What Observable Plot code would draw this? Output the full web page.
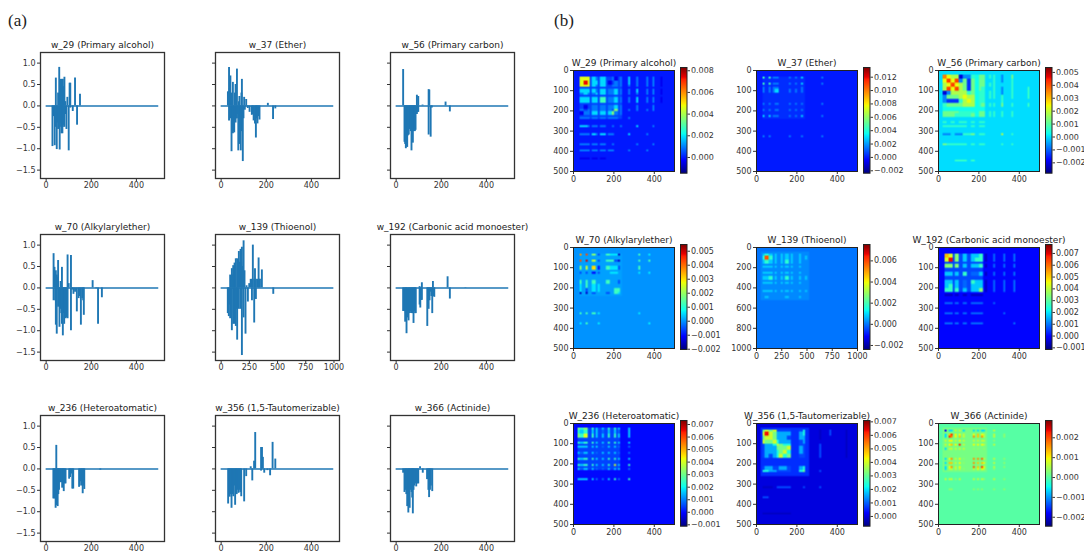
<!DOCTYPE html>
<html><head><meta charset="utf-8">
<script src="https://cdn.jsdelivr.net/npm/d3@7"></script>
<script src="https://cdn.jsdelivr.net/npm/@observablehq/plot@0.6"></script>
<style>
html,body{margin:0;padding:0;background:#fff;width:1084px;height:552px;overflow:hidden}
#root{position:relative;width:1084px;height:552px;overflow:hidden}
.p{position:absolute}
.lab{position:absolute;font-family:"Liberation Serif",serif;font-size:17px;color:#222}
</style></head><body><div id="root"><div class="lab" style="left:8px;top:11px">(a)</div><div class="lab" style="left:554px;top:11px">(b)</div></div>
<script>
// ---- stem values: [position, value]
const w_29=[[28,-.95],[33,-.25],[38,-.93],[43,.65],[43,-.5],[47,-1.02],[50,-.4],[53,.3],[53,-.55],[58,.9],[60,-1.03],[62,.3],[62,-.4],[64,.62],[66,-.5],[68,.4],[68,-.65],[70,.62],[72,-.65],[74,.62],[74,-.5],[77,.45],[77,-.45],[81,.67],[81,-.5],[85,.1],[85,-.2],[90,-.55],[94,.2],[100,-1.05],[104,.53],[107,.53],[107,-.05],[118,-.13],[128,.65],[137,-.45],[150,.27]];
const w_37=[[30,.33],[35,.9],[35,-.35],[38,.4],[41,.7],[41,-.3],[44,.3],[46,-1.07],[49,-.5],[52,.55],[52,-.65],[55,-.6],[58,-.63],[61,.3],[64,.5],[64,-.4],[67,-.3],[70,.86],[70,-.3],[73,-.2],[76,-1.05],[79,.1],[81,.22],[81,-.9],[84,-.5],[87,-1.05],[90,.3],[92,.62],[92,-.6],[96,-1.3],[99,-.3],[102,.2],[105,-.1],[111,.15],[111,-.02],[118,-.06],[126,-.15],[136,-.22],[140,-.2],[144,-.35],[150,-.42],[154,-.75],[158,-.3],[161,-.42],[166,-.25],[170,-.33],[207,.06],[230,-.32],[240,-.07]];
const w_56=[[31,.85],[37,-.85],[40,-.9],[43,-1.0],[46,-.95],[49,-.97],[52,-.7],[56,-.68],[59,-.55],[62,-.5],[65,-.6],[68,-1.05],[71,-.85],[74,-.87],[77,-.6],[80,-.55],[83,-.6],[86,-.57],[92,.25],[92,-.2],[95,-.15],[98,.22],[98,-.15],[117,.02],[144,.38],[144,-.68],[147,.37],[153,-.73],[158,-.05],[219,.09],[238,-.14]];
const w_70=[[33,.8],[33,-.3],[37,.48],[40,-.3],[43,-.87],[43,.4],[47,-1.08],[47,.3],[50,.25],[53,.64],[53,-.45],[56,-.4],[59,-.92],[62,-.5],[64,.15],[67,-.6],[70,.48],[70,-.85],[74,-1.12],[77,-.6],[80,-.85],[83,-.7],[86,-.72],[90,-.7],[95,.77],[95,-.72],[100,.1],[110,.76],[110,-1.0],[115,-.05],[121,-.15],[128,-.1],[136,-.56],[144,-.25],[148,-.2],[154,-.87],[160,-.25],[164,-.3],[167,-.64],[206,.17],[222,-.02],[230,-.85],[247,-.23]];
const w_139=[[59,-.6],[68,-.67],[74,-.4],[80,.3],[80,-.72],[88,.2],[95,-1.0],[95,.45],[101,.3],[107,.52],[107,-.85],[113,-.6],[119,.58],[119,-.85],[125,.5],[130,.68],[130,-.9],[136,-.5],[142,-1.22],[142,.68],[150,-.4],[157,.85],[157,-.5],[165,.6],[172,.9],[172,-.5],[178,.6],[184,-1.58],[184,.95],[192,.5],[199,1.1],[199,-.7],[207,.4],[216,-1.08],[225,.05],[237,-.33],[249,.1],[262,.2],[273,.2],[273,-.3],[281,1.0],[293,-.82],[293,.2],[300,.45],[308,-.27],[308,.2],[320,.2],[332,.7],[332,.2],[344,.2],[361,.42],[462,-.15]];
const w_192=[[31,-.55],[35,-.55],[40,-.8],[43,-.6],[46,-1.07],[50,-.7],[55,-.77],[58,-.6],[62,-.55],[66,-.6],[70,-.6],[74,-.6],[77,-.83],[81,-.55],[84,-.6],[87,-.6],[104,.03],[104,-.4],[107,-.47],[111,-.29],[114,.12],[114,-.29],[138,-.9],[141,-.3],[144,-.5],[148,-.3],[151,-.1],[156,-.2],[160,-.6],[163,.15],[166,-.2],[169,-.22],[228,.26],[238,-.26],[307,.01]];
const w_236=[[32,-.7],[35,-.7],[38,-.7],[42,-.92],[45,.55],[45,-.85],[48,-.85],[51,-.88],[54,-.6],[57,-.5],[60,-.32],[63,-.32],[67,-.32],[71,-.45],[75,-.3],[78,-.53],[82,-.35],[86,-.35],[102,-.24],[106,-.2],[111,-.12],[116,-.47],[120,-.47],[146,-.43],[150,-.3],[155,-.4],[158,-.3],[162,-.58],[166,-.4],[169,-.48],[240,-.03]];
const w_356=[[31,-.82],[35,-.6],[38,-.66],[42,-.6],[46,-.92],[50,-.6],[54,-.65],[58,-.4],[62,-.85],[66,-.5],[69,-.6],[73,-.5],[77,-.57],[81,-.5],[85,-.55],[89,-.65],[102,-.77],[111,-.18],[131,.05],[138,-.28],[146,.18],[151,.85],[177,.5],[177,-.05],[181,.5],[185,.27],[191,-.1],[205,-.04],[217,-.16],[228,.62],[240,.23]];
const w_366=[[31,-.1],[37,-.55],[41,-.5],[45,-.6],[49,-.88],[54,-1.03],[57,-.9],[60,-.92],[64,-.5],[68,-.55],[71,-.68],[74,-1.05],[77,-.5],[80,-.4],[85,-.35],[89,-.42],[94,-.35],[98,-.35],[106,.05],[118,-.1],[137,-.25],[143,-.5],[146,-.67],[150,-.5],[154,-.4],[160,-.53]];

// ---- heat maps of panel (b), read as bands of rows/columns with levels between each pair of bands.
// levels: digits = multiples of (colour-bar max)/9, a-d = multiples of (colour-bar min)/4, 0 = nothing on top of the floor.
const W_29_bands=[[30,50],[50,70],[70,85],[95,110],[115,125],[130,165],[175,187],[190,205],[205,225],[230,240],[270,280],[310,325],[365,375],[395,405],[435,445]];
const W_29_levels=["5","58","555","2222","12112","222223","0a01111","1011111","a11222241","111111111","2211110101","11121211002","111111010001","1111111100101","aaaaaa000000000"];
const W_29_floor=[30,240,.0004];
const W_37_bands=[[30,40],[58,68],[78,88],[95,110],[165,175],[195,205],[222,232],[322,332]];
const W_37_levels=["3","33","111","1112","11011","110111","2211112","11001011"];
const W_37_floor=[30,240,.0003];
const W_56_bands=[[25,40],[45,60],[65,80],[85,100],[105,120],[125,145],[145,160],[165,180],[200,215],[215,230],[250,260],[270,280],[310,325],[365,375],[440,450]];
const W_56_levels=["6","47","347","3747","ca333","a22234","abbb134","12222333","222211112","2221111222","10101101110","111111011100","aa0aa11211003","21111101110011","000111010000000"];
const W_56_floor=[25,235,.0003];
const W_70_bands=[[30,45],[58,72],[90,108],[122,135],[165,180],[185,200],[205,220],[225,235],[325,335],[368,378]];
const W_70_levels=["6","78","345","aaba","22202","1211003","1a110022","cca0a0214","2221000012","1201000001"];
const W_70_floor=[30,240,.0001];
const W_139_bands=[[60,85],[90,130],[130,155],[190,210],[240,260],[290,320],[340,360],[430,450],[480,500]];
const W_139_levels=["1","27","121","1111","11111","112112","1111111","11111111","010001010"];
const W_139_floor=[50,520,.0002];
const W_192_bands=[[33,48],[55,72],[82,98],[125,140],[165,178],[185,200],[205,220],[235,245],[275,285],[325,335],[370,380]];
const W_192_levels=["6","58","444","2223","22213","232122","3332224","bbbbbbb0","111111101","1111111001","11111110001"];
const W_192_floor=[30,225,.0006];
const W_236_bands=[[25,35],[35,55],[55,68],[90,102],[112,122],[140,150],[172,185],[197,212],[225,235],[275,285]];
const W_236_levels=["4","32","435","3233","22222","212212","3233223","32332235","212211222","2222112313"];
const W_236_floor=[25,235,.0005];
const W_356_bands=[[30,40],[40,58],[58,80],[80,98],[98,112],[112,135],[135,150],[150,170],[215,228],[228,240],[310,325],[365,375],[440,450]];
const W_356_levels=["4","58","455","5445","12235","122244","1222345","12123534","122112212","3322111134","aaa01111011","110000000000","aaaaaaaa00000"];
const W_356_floor=[25,260,.0006];
const W_366_bands=[[28,42],[48,60],[62,75],[85,95],[100,112],[125,135],[170,182],[190,202],[208,220],[225,235],[275,285],[325,335]];
const W_366_levels=["c","a4","a75","2332","23437","a22222","a352315","a4423154","a35230647","a222212332","22212022212","011000111011"];
const W_366_floor=[25,240,.0002];

const stemPanels=[
 ["w_29 (Primary alcohol)",w_29,500],["w_37 (Ether)",w_37,500],["w_56 (Primary carbon)",w_56,500],
 ["w_70 (Alkylarylether)",w_70,500],["w_139 (Thioenol)",w_139,1000],["w_192 (Carbonic acid monoester)",w_192,500],
 ["w_236 (Heteroatomatic)",w_236,500],["w_356 (1,5-Tautomerizable)",w_356,500],["w_366 (Actinide)",w_366,500]];
const heatPanels=[
 ["W_29 (Primary alcohol)",W_29_bands,W_29_levels,W_29_floor,500,-.00145,.0083,[0,.002,.004,.006,.008]],
 ["W_37 (Ether)",W_37_bands,W_37_levels,W_37_floor,500,-.00236,.01345,[-.002,0,.002,.004,.006,.008,.01,.012]],
 ["W_56 (Primary carbon)",W_56_bands,W_56_levels,W_56_floor,500,-.0028,.00538,[-.002,-.001,0,.001,.002,.003,.004,.005]],
 ["W_70 (Alkylarylether)",W_70_bands,W_70_levels,W_70_floor,500,-.00202,.00548,[-.002,-.001,0,.001,.002,.003,.004,.005]],
 ["W_139 (Thioenol)",W_139_bands,W_139_levels,W_139_floor,1000,-.00238,.00755,[-.002,0,.002,.004,.006]],
 ["W_192 (Carbonic acid monoester)",W_192_bands,W_192_levels,W_192_floor,500,-.00114,.00776,[-.001,0,.001,.002,.003,.004,.005,.006,.007]],
 ["W_236 (Heteroatomatic)",W_236_bands,W_236_levels,W_236_floor,500,-.00111,.00732,[-.001,0,.001,.002,.003,.004,.005,.006,.007]],
 ["W_356 (1,5-Tautomerizable)",W_356_bands,W_356_levels,W_356_floor,500,-.00072,.0071,[0,.001,.002,.003,.004,.005,.006,.007]],
 ["W_366 (Actinide)",W_366_bands,W_366_levels,W_366_floor,500,-.00245,.00287,[-.002,-.001,0,.001,.002]]];

const jetT=[0,.11,.125,.35,.375,.64,.66,.89,.91,1];
const jetC=["#00007f","#0000f0","#0000ff","#00e5ff","#0cfff0","#f0ff06","#ffea00","#ff1e00","#e80000","#7f0000"];

const root=document.getElementById("root");
const font={fontFamily:"DejaVu Sans",fontSize:"8px",color:"#333",background:"transparent",overflow:"visible",maxWidth:"none"};
function place(svg,x,y,ml,mt){svg.style.left=(x-ml)+"px";svg.style.top=(y-mt)+"px";svg.classList.add("p");svg.style.position="absolute";root.appendChild(svg);}

const stemX=[39.5,214.5,389.5],stemY=[52,233.5,415],SW=124,SH=126;
stemPanels.forEach(([title,data,n],i)=>{
  const c=i%3,r=Math.floor(i/3),ml=40,mr=40,mt=20,mb=12,blue="#1f77b4";
  const xt=n===1000?[0,250,500,750,1000]:[0,200,400];
  const svg=Plot.plot({width:SW+ml+mr,height:SH+mt+mb,marginLeft:ml,marginRight:mr,marginTop:mt,marginBottom:mb,style:font,
    x:{domain:[-.05*n,n*1.049],ticks:xt,tickSize:3,tickPadding:1,tickFormat:"d",label:null},
    y:{domain:[-1.696,1.248],ticks:[-1.5,-1,-.5,0,.5,1],tickSize:3,tickPadding:2,label:null,tickFormat:c===0?".1f":()=>""},
    marks:[
      Plot.ruleY([0],{x1:0,x2:n-1,stroke:blue,strokeWidth:1.5}),
      Plot.ruleX(data,{x:d=>d[0],y1:0,y2:d=>d[1],stroke:blue,strokeWidth:1.9}),
      Plot.frame({stroke:"#333",strokeWidth:1.3}),
      Plot.text([title],{frameAnchor:"top",dy:-11,fontSize:9,fill:"#222"})
    ]});
  place(svg,stemX[c],stemY[r],ml,mt);
});

const heatX=[573.3,755.7,938.3],heatY=[70,246.5,423],HS=101,barY=[67,244.3,420],barH=[105.7,105,105.7],barX=[680,862.7,1044.8];
heatPanels.forEach(([title,bands,levels,floor,n,lo,hi,ticks],i)=>{
  const c=i%3,r=Math.floor(i/3),ml=40,mr=40,mt=20,mb=20,N=50;
  const step=hi/9,neg=-lo/4;
  const unit=n/N;
  const at=j=>(j+.5)*unit;
  const cells=new Array(N*N).fill(0);
  for(let a=0;a<N;a++)for(let b=0;b<N;b++){
    if(at(a)>=floor[0]&&at(a)<floor[1]&&at(b)>=floor[0]&&at(b)<floor[1])cells[a*N+b]=floor[2];
  }
  levels.forEach((s,ri)=>{
    for(let cj=0;cj<=ri&&cj<s.length;cj++){
      const ch=s[cj]; if(ch==="0")continue;
      const v=ch>="1"&&ch<="9"?(+ch)*step:-(ch.charCodeAt(0)-96)*neg;
      const [r0,r1]=bands[ri],[c0,c1]=bands[cj];
      for(let a=0;a<N;a++)for(let b=0;b<N;b++){
        if(at(a)>=r0&&at(a)<r1&&at(b)>=c0&&at(b)<c1){cells[a*N+b]=v;cells[b*N+a]=v;}
      }
    }
  });
  const color={type:"linear",domain:jetT.map(t=>lo+t*(hi-lo)),range:jetC};
  const xt=n===1000?[0,250,500,750,1000]:[0,200,400];
  const yt=n===1000?[0,200,400,600,800,1000]:[0,100,200,300,400,500];
  const svg=Plot.plot({width:HS+ml+mr,height:HS+mt+mb,marginLeft:ml,marginRight:mr,marginTop:mt,marginBottom:mb,style:font,color,
    x:{domain:[0,n],ticks:xt,tickSize:3,tickPadding:2,tickFormat:"d",label:null},
    y:{domain:[0,n],reverse:true,ticks:yt,tickSize:3,tickPadding:2,tickFormat:"d",label:null},
    marks:[
      Plot.raster(cells,{width:N,height:N,x1:0,x2:n,y1:0,y2:n,fill:d=>d}),
      Plot.frame({stroke:"#222",strokeWidth:1}),
      Plot.text([title],{frameAnchor:"top",dy:-11,fontSize:9,fill:"#222"})
    ]});
  const img=svg.querySelector("image"); if(img) img.style.filter="blur(0.6px)";
  place(svg,heatX[c],heatY[r],ml,mt);
  // colour bar
  const bh=barH[r],bw=6.5,M=256;
  const bar_levels=d3.range(M).map(k=>hi-(k+.5)/M*(hi-lo));
  const bar=Plot.plot({width:bw+5+34,height:bh+10,marginLeft:5,marginRight:34,marginTop:5,marginBottom:5,style:font,color,
    x:{domain:[0,1],axis:null},
    y:{domain:[lo,hi],ticks,tickSize:2.5,tickPadding:1.5,tickFormat:".3f",label:null,axis:"right"},
    marks:[
      Plot.raster(bar_levels,{width:1,height:M,x1:0,x2:1,y1:hi,y2:lo,fill:d=>d}),
      Plot.frame({stroke:"#222",strokeWidth:1})
    ]});
  place(bar,barX[c],barY[r],5,5);
});
</script></body></html>
